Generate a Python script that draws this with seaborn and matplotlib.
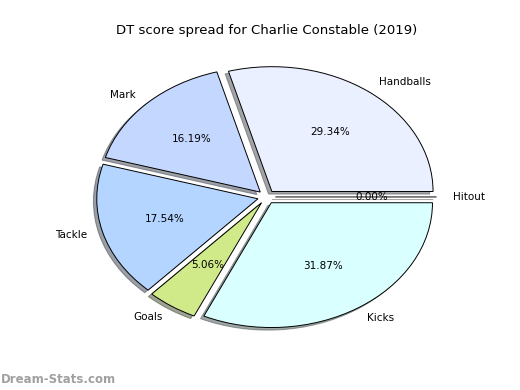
import matplotlib
matplotlib.use('Agg')

import matplotlib.pyplot as plt
import seaborn as sns

# =========================
# DATA
# =========================
labels = ['Handballs', 'Mark', 'Tackle', 'Goals', 'Kicks', 'Hitout']
shares = [29.34, 16.19, 17.54, 5.06, 31.87, 0.00]
colors = ['#eaf0ff', '#c4d7ff', '#b3d5ff', '#d0ea8a', '#d9ffff', '#ffe0e0']

sns.set_style('white')
plt.rcParams['font.family'] = ['DejaVu Sans']
plt.rcParams['text.color'] = 'black'

fig, ax = plt.subplots(figsize=(5.2, 3.9), dpi=100)
fig.subplots_adjust(left=0.125, right=0.9, bottom=0.095, top=0.895)

ax.pie(
    shares,
    labels=labels,
    colors=colors,
    explode=[0.055] * len(shares),
    autopct='%.2f%%',
    startangle=0,
    shadow={'ox': -0.015, 'oy': -0.015, 'shade': 0.7},
    wedgeprops={'edgecolor': 'black', 'linewidth': 0.7},
    textprops={'fontsize': 7.5, 'color': 'black'},
)
ax.set_aspect('auto')   # elliptical like the original

ax.set_title('DT score spread for Charlie Constable (2019)', fontsize=9.5,
             pad=5, color='black')

# watermark
fig.text(0.002, 0.01, 'Dream-Stats.com', fontsize=8.5, color='#a0a0a0',
         fontweight='bold', ha='left', va='bottom')

plt.savefig('out.png', dpi=100)
print('Saved: out.png')
